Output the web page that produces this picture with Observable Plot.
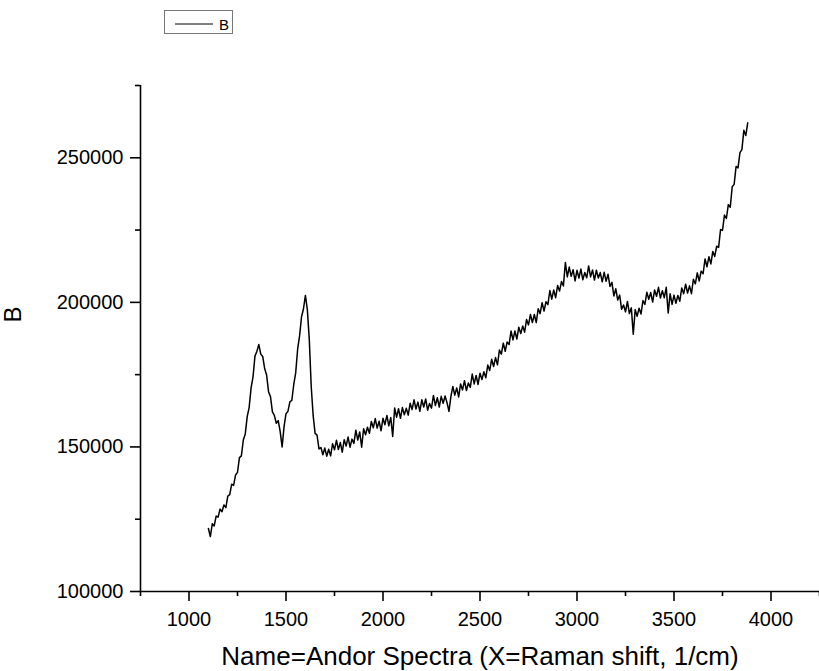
<!DOCTYPE html>
<html>
<head>
<meta charset="utf-8">
<script src="https://cdn.jsdelivr.net/npm/d3@7"></script>
<script src="https://cdn.jsdelivr.net/npm/@observablehq/plot@0.6"></script>
<style>
  html, body { margin: 0; padding: 0; background: #fff; }
  #wrap { position: relative; width: 819px; height: 671px; font-family: "Liberation Sans", Arial, sans-serif; }
  #legend { position: absolute; left: 164px; top: 10px; }
</style>
</head>
<body>
<div id="wrap"></div>
<script>
// Raman shift (1/cm)
const shift = [
  1100,1110,1120,1130,1140,1150,1160,1170,1180,1190,
  1200,1210,1220,1230,1240,1250,1260,1270,1280,1290,
  1300,1310,1320,1330,1340,1350,1360,1370,1380,1390,
  1400,1410,1420,1430,1440,1450,1460,1470,1480,1490,
  1500,1510,1520,1530,1540,1550,1560,1570,1580,1590,
  1600,1610,1620,1630,1640,1650,1660,1670,1680,1690,
  1700,1710,1720,1730,1740,1750,1760,1770,1780,1790,
  1800,1810,1820,1830,1840,1850,1860,1870,1880,1890,
  1900,1910,1920,1930,1940,1950,1960,1970,1980,1990,
  2000,2010,2020,2030,2040,2050,2060,2070,2080,2090,
  2100,2110,2120,2130,2140,2150,2160,2170,2180,2190,
  2200,2210,2220,2230,2240,2250,2260,2270,2280,2290,
  2300,2310,2320,2330,2340,2350,2360,2370,2380,2390,
  2400,2410,2420,2430,2440,2450,2460,2470,2480,2490,
  2500,2510,2520,2530,2540,2550,2560,2570,2580,2590,
  2600,2610,2620,2630,2640,2650,2660,2670,2680,2690,
  2700,2710,2720,2730,2740,2750,2760,2770,2780,2790,
  2800,2810,2820,2830,2840,2850,2860,2870,2880,2890,
  2900,2910,2920,2930,2940,2950,2960,2970,2980,2990,
  3000,3010,3020,3030,3040,3050,3060,3070,3080,3090,
  3100,3110,3120,3130,3140,3150,3160,3170,3180,3190,
  3200,3210,3220,3230,3240,3250,3260,3270,3280,3290,
  3300,3310,3320,3330,3340,3350,3360,3370,3380,3390,
  3400,3410,3420,3430,3440,3450,3460,3470,3480,3490,
  3500,3510,3520,3530,3540,3550,3560,3570,3580,3590,
  3600,3610,3620,3630,3640,3650,3660,3670,3680,3690,
  3700,3710,3720,3730,3740,3750,3760,3770,3780,3790,
  3800,3810,3820,3830,3840,3850,3860,3870,3880
];
// Series B intensity
const counts = [
  121800,119000,123400,122700,126100,125700,128500,127600,129900,129000,
  133000,133500,137100,136700,140300,141200,146300,146900,152400,154500,
  160500,163600,170400,174200,181400,183100,185400,182100,181300,177100,
  174900,169100,167400,162100,160900,158200,159100,155300,150000,157000,
  161500,162300,165600,166100,171600,175600,183800,188400,195000,197700,
  202400,197500,187200,170900,160800,154700,154100,149300,149800,147300,
  149600,146800,149200,146900,151100,149000,152300,149100,151500,148200,
  152500,150300,153400,149900,152700,151200,155800,152400,155200,149900,
  156300,154200,156800,154700,158800,156600,159800,156500,158900,155600,
  159900,157700,160900,157300,160200,153600,163500,160300,163200,159900,
  163600,161100,163400,161000,165100,162900,166300,163100,165500,162300,
  166300,163800,166600,162700,165000,163400,167800,164300,167000,163800,
  167500,165100,167600,165300,162300,167500,170900,167900,170400,167300,
  171800,169700,172900,169500,172100,170600,175200,171800,174700,171600,
  175500,173300,176000,173900,178300,176400,180300,177800,180900,178400,
  183500,182100,185900,183100,186300,185400,190100,187000,190100,187300,
  191400,189200,191800,189700,194100,192200,195800,193000,195800,193000,
  197800,196100,199900,197000,200200,199200,204100,201100,204300,201600,
  205800,203900,207200,205700,213800,208800,212200,209000,211300,207400,
  211100,208400,211500,207800,210300,208500,212600,208800,211200,207700,
  211100,208400,210300,207100,210400,207300,209700,205500,206900,202200,
  204700,200800,202500,197600,199100,196700,200300,196100,198100,189000,
  197500,195200,198000,196000,200600,199300,203500,201100,203400,200100,
  204300,202100,205200,201500,204000,201600,205200,196300,203000,199300,
  202500,199700,202400,200400,205000,203000,206300,203200,205700,203000,
  208000,206400,210200,207400,210800,209900,215000,212300,215800,213300,
  217600,215900,219400,219000,225200,224900,230200,229000,233800,232900,
  240000,240800,247000,246500,251800,252800,259500,257700,262100
];
const seriesName = "B";
const xTicks = [1000, 1500, 2000, 2500, 3000, 3500, 4000];
const xMinorTicks = [750, 1250, 1750, 2250, 2750, 3250, 3750, 4250];
const yTicks = [100000, 150000, 200000, 250000];
const yMinorTicks = [125000, 175000, 225000, 275000];
const xDomain = [750, 4250];
const yDomain = [100000, 275000];
const xTitle = "Name=Andor Spectra (X=Raman shift, 1/cm)";
const yTitle = "B";

const data = shift.map((s, i) => ({shift: s, count: counts[i]}));
const fmt = d => String(d);
const FONT = '"Liberation Sans", Arial, sans-serif';
const AX = 1.6;

const chart = Plot.plot({
  width: 819,
  height: 671,
  marginTop: 85,
  marginLeft: 140,
  marginRight: 0,
  marginBottom: 80,
  style: {fontFamily: FONT, fontSize: "20px", background: "white", color: "black", overflow: "visible"},
  x: {domain: xDomain},
  y: {domain: yDomain},
  marks: [
    Plot.axisX({ticks: xTicks, tickSize: 10, tickPadding: 10, tickFormat: fmt, label: null, strokeWidth: AX, fontSize: 20}),
    Plot.axisX({ticks: xMinorTicks, tickSize: 5, text: null, label: null, strokeWidth: AX}),
    Plot.axisY({ticks: yTicks, tickSize: 10, tickPadding: 7, tickFormat: fmt, label: null, strokeWidth: AX, fontSize: 20}),
    Plot.axisY({ticks: yMinorTicks, tickSize: 5, text: null, label: null, strokeWidth: AX}),
    Plot.ruleX([xDomain[0]], {stroke: "black", strokeWidth: AX}),
    Plot.ruleY([yDomain[0]], {stroke: "black", strokeWidth: AX}),
    Plot.line(data, {x: "shift", y: "count", stroke: "black", strokeWidth: 1.5}),
    Plot.text([xTitle], {text: d => d, frameAnchor: "bottom", dy: 73, lineAnchor: "bottom", fontSize: 26, fill: "black"}),
    Plot.text([yTitle], {text: d => d, frameAnchor: "left", rotate: -90, dx: -120, dy: -16, lineAnchor: "bottom", fontSize: 24, fill: "black"})
  ]
});

const wrap = document.getElementById("wrap");
wrap.appendChild(chart);

// Legend box (overlaid in the top margin)
const ns = "http://www.w3.org/2000/svg";
const leg = document.createElementNS(ns, "svg");
leg.setAttribute("id", "legend");
leg.setAttribute("width", 70);
leg.setAttribute("height", 25);
const rect = document.createElementNS(ns, "rect");
rect.setAttribute("x", 0.5); rect.setAttribute("y", 0.5);
rect.setAttribute("width", 68); rect.setAttribute("height", 23);
rect.setAttribute("fill", "white"); rect.setAttribute("stroke", "#777");
leg.appendChild(rect);
const ln = document.createElementNS(ns, "line");
ln.setAttribute("x1", 11); ln.setAttribute("x2", 49);
ln.setAttribute("y1", 14); ln.setAttribute("y2", 14);
ln.setAttribute("stroke", "black"); ln.setAttribute("stroke-width", 1);
leg.appendChild(ln);
const tx = document.createElementNS(ns, "text");
tx.setAttribute("x", 55); tx.setAttribute("y", 19.5);
tx.setAttribute("font-size", 15);
tx.setAttribute("font-family", FONT);
tx.textContent = seriesName;
leg.appendChild(tx);
wrap.appendChild(leg);
</script>
</body>
</html>
